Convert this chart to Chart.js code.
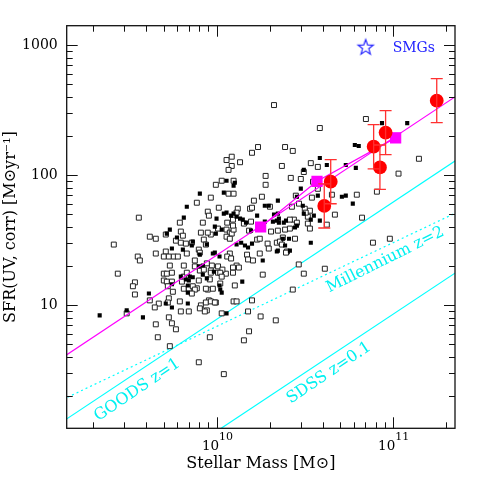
<!DOCTYPE html>
<html><head><meta charset="utf-8">
<script src="https://cdn.jsdelivr.net/npm/chart.js@4.4.1/dist/chart.umd.min.js"></script>
<style>html,body{margin:0;padding:0;background:#fff}</style>
</head><body>
<canvas id="c" width="480" height="480" style="width:480px;height:480px;display:block"></canvas>
<script>
// ---- data (stellar mass in Msun, SFR in Msun/yr) ----
const openMass = [21.2e9,70.5e9,38.6e9,17.2e9,15.9e9,24.5e9,27.1e9,11.4e9,12.2e9,13.6e9,12.2e9,11.7e9,23.5e9,34.3e9,31.3e9,19.0e9,26.4e9,30.1e9,10.7e9,9.91e9,19.0e9,11.7e9,12.5e9,9.28e9,18.1e9,34.8e9,16.3e9,29.4e9,10.3e9,13.2e9,15.5e9,15.9e9,20.1e9,26.8e9,7.73e9,108e9,141e9,37.6e9,45.2e9,47.0e9,42.3e9,33.9e9,37.6e9,62.6e9,67.0e9,81.4e9,96.4e9,8.92e9,9.05e9,6.19e9,13.0e9,3.62e9,6.27e9,5.15e9,6.44e9,4.18e9,4.52e9,5.88e9,6.27e9,6.70e9,7.24e9,2.61e9,4.52e9,5.15e9,5.02e9,5.36e9,5.72e9,6.03e9,6.78e9,3.57e9,3.67e9,5.43e9,6.52e9,8.36e9,10.2e9,8.15e9,8.47e9,9.28e9,8.70e9,7.93e9,8.04e9,7.53e9,9.41e9,10.2e9,12.5e9,28.2e9,35.3e9,31.7e9,27.5e9,28.6e9,33.0e9,32.1e9,26.1e9,15.7e9,14.3e9,15.3e9,20.4e9,22.3e9,24.5e9,26.1e9,33.0e9,33.9e9,23.8e9,27.9e9,22.0e9,22.9e9,17.0e9,17.6e9,19.5e9,19.8e9,25.1e9,29.3e9,13.0e9,13.4e9,12.4e9,11.9e9,11.5e9,12.1e9,11.4e9,11.9e9,12.2e9,11.4e9,11.9e9,12.5e9,12.4e9,11.5e9,12.4e9,8.04e9,8.47e9,9.28e9,10.2e9,11.3e9,12.4e9,9.16e9,18.3e9,31.3e9,7.73e9,8.92e9,12.7e9,27.1e9,9.05e9,9.91e9,12.5e9,13.0e9,15.9e9,8.15e9,8.81e9,15.1e9,17.8e9,21.7e9,15.3e9,14.3e9,41.2e9,77.3e9,24.8e9,23.5e9,7.53e9,8.81e9,10.8e9,5.02e9,5.22e9,5.58e9,6.52e9,6.78e9,7.93e9,9.28e9,10.5e9,10.7e9,5.02e9,5.22e9,5.58e9,6.36e9,5.65e9,6.52e9,6.96e9,7.33e9,7.53e9,7.24e9,8.70e9,9.53e9,10.5e9,4.18e9,4.70e9,4.46e9,5.36e9,6.19e9,6.96e9,6.27e9,8.58e9,8.70e9,9.28e9,9.78e9,5.36e9,5.58e9,5.88e9,4.52e9,4.64e9,10.7e9,2.75e9,3.44e9,3.35e9,3.44e9,3.09e9,5.29e9,5.43e9,5.29e9,7.93e9,11.0e9,9.16e9,8.04e9,8.92e9,14.9e9,15.1e9,17.6e9,16.1e9];
const openSFR = [347,271,231,165,149,165,154,131,139,126,118,110,118,124,106,98.9,95.5,93.7,90.8,84.5,84.5,72.2,72.2,67.3,68.4,67.3,63.8,60.5,56.3,55.3,55.3,56.3,57.3,57.3,61.5,103,134,116,70.9,49.8,41.7,53.4,78.7,70.9,47.2,74.8,32.5,52.5,48.9,43.2,51.6,47.2,36.9,35.0,34.3,33.7,32.5,31.4,30.3,29.8,30.3,29.3,25.0,25.9,23.7,23.7,23.7,23.7,25.0,23.7,22.1,20.2,20.2,43.2,38.9,36.2,32.0,35.0,29.3,26.8,25.4,22.1,20.2,19.9,90.8,69.7,89.2,55.3,45.6,43.2,48.0,51.6,45.6,44.0,42.5,37.5,36.9,37.5,38.2,38.9,42.5,38.9,33.2,32.5,30.3,30.9,32.0,32.5,29.8,27.3,25.9,20.6,20.2,19.5,19.5,25.0,23.7,22.9,38.2,36.2,35.6,33.7,32.5,38.2,45.6,43.2,41.0,18.5,18.8,18.5,17.8,17.5,17.8,15.8,17.2,17.5,13.5,13.2,14.2,13.2,10.9,10.5,10.7,10.7,10.9,9.98,9.13,8.96,8.20,7.65,6.30,5.37,19.1,30.3,25.4,29.3,19.9,21.0,18.8,17.5,17.5,17.8,16.6,17.8,15.5,17.8,17.8,16.6,15.5,15.2,15.2,15.2,12.7,13.4,13.4,14.0,13.2,12.3,13.4,13.4,14.7,10.9,10.3,9.62,11.3,10.7,8.96,8.96,8.96,10.5,10.7,10.5,8.07,7.26,6.53,7.13,5.67,8.66,17.5,15.0,14.0,12.1,8.66,10.5,4.84,14.0,3.64,2.95,5.67,9.46,36.2,24.5,22.5,25.0,22.1];

const filledMass = [87.0e9,121e9,61.0e9,64.2e9,38.6e9,42.3e9,54.2e9,61.8e9,31.3e9,11.4e9,12.7e9,12.5e9,30.1e9,8.04e9,11.0e9,28.6e9,22.3e9,18.8e9,30.9e9,6.78e9,6.52e9,11.0e9,10.0e9,37.6e9,35.7e9,38.6e9,54.2e9,51.5e9,59.4e9,19.8e9,21.2e9,22.3e9,31.3e9,24.1e9,24.8e9,20.9e9,22.0e9,22.6e9,22.6e9,17.0e9,18.8e9,15.7e9,28.6e9,27.9e9,34.3e9,23.8e9,25.8e9,24.5e9,22.3e9,18.3e9,13.0e9,13.8e9,14.5e9,15.1e9,15.9e9,11.4e9,12.1e9,12.5e9,13.0e9,13.6e9,14.1e9,14.7e9,5.43e9,5.96e9,5.58e9,6.44e9,10.4e9,10.5e9,10.7e9,14.0e9,11.4e9,34.3e9,22.0e9,26.1e9,2.17e9,3.09e9,3.82e9,4.13e9,5.15e9,5.58e9,5.58e9,6.27e9,6.70e9,6.87e9,7.05e9,8.04e9,9.53e9,9.78e9,10.4e9,8.36e9,7.33e9,8.36e9,8.81e9,9.66e9,6.96e9,6.87e9,6.87e9,7.33e9,8.81e9,10.7e9,9.91e9,7.93e9,5.22e9,7.24e9,9.78e9];
const filledSFR = [252,252,171,168,136,120,120,114,110,90.8,87.6,83.1,78.9,72.2,73.5,68.4,63.8,58.3,58.3,57.3,47.2,50.7,46.4,69.7,48.9,44.8,69.7,68.4,60.5,58.3,49.8,50.7,50.7,43.2,44.8,44.0,44.8,43.2,46.4,48.9,44.0,37.5,41.0,39.6,45.6,32.5,32.5,28.8,26.3,22.1,29.3,30.3,28.8,27.8,29.8,51.6,48.9,50.7,48.0,46.4,45.6,43.2,38.2,33.2,27.3,26.8,14.2,13.2,12.5,15.2,8.66,30.3,25.9,26.3,8.35,9.13,8.07,12.3,10.3,9.62,14.5,16.6,15.8,14.2,16.6,24.5,25.0,25.4,23.7,20.2,16.4,17.2,16.1,18.1,15.5,12.5,10.3,30.9,29.3,38.2,35.6,19.9,35.6,28.8,40.3];

// stacked / binned points (magenta squares)
const binMass = [1.78e10, 3.72e10, 1.04e11];
const binSFR = [40.0, 89.9, 194];

// red circles with error bars
const circMass = [4.09e10, 4.45e10, 7.80e10, 8.47e10, 9.12e10, 1.78e11];
const circSFR = [58.1, 89.3, 166, 115, 213, 375];
const circLo = [39.3, 60.4, 112, 78, 144, 254];
const circHi = [85.9, 132, 245, 171, 315, 555];

// relations (end points)
const relMass = [1e9, 3e11];
const fitSFR = [3.05, 518];
const goodsSFR = [0.98, 166];
const millSFR = [1.56, 61.2];
const sdssSFR = [0.135, 22.8];

// SMG legend marker
const smgMass = [7.03e10];
const smgSFR = [975];

const yTickValues = [10, 100, 1000];
const xTickValues = [1e10, 1e11];
const xTickExp = ['10', '11'];

const pts = (xs, ys) => xs.map((x, i) => ({x: x, y: ys[i]}));

function starImg() {
  const c = document.createElement('canvas');
  c.width = 20; c.height = 20;
  const g = c.getContext('2d');
  g.strokeStyle = '#2323ff'; g.lineWidth = 1.2;
  g.beginPath();
  for (let k = 0; k < 10; k++) {
    const r = k % 2 ? 3.3 : 8.0;
    const a = -Math.PI / 2 + k * Math.PI / 5;
    const px = 10 + r * Math.cos(a), py = 10.8 + r * Math.sin(a);
    if (k) g.lineTo(px, py); else g.moveTo(px, py);
  }
  g.closePath(); g.stroke();
  return c;
}

const FONT = 'DejaVu Serif';
Chart.defaults.font.family = FONT;
Chart.defaults.color = '#000';

const decor = {
  id: 'decor',
  afterDatasetsDraw(chart) {
    const ctx = chart.ctx, xs = chart.scales.x, ys = chart.scales.y;
    ctx.save();
    // error bars
    ctx.strokeStyle = '#ff3030'; ctx.lineWidth = 1.3;
    circMass.forEach((m, i) => {
      const px = xs.getPixelForValue(m);
      const lo = ys.getPixelForValue(circLo[i]), hi = ys.getPixelForValue(circHi[i]);
      ctx.beginPath();
      ctx.moveTo(px, lo); ctx.lineTo(px, hi);
      ctx.moveTo(px - 6, lo); ctx.lineTo(px + 6, lo);
      ctx.moveTo(px - 6, hi); ctx.lineTo(px + 6, hi);
      ctx.stroke();
    });
    // annotations
    const notes = [
      {text: 'GOODS z=1', x: 3.55e9, y: 2.23, rot: -34},
      {text: 'Millennium z=2', x: 9.1e10, y: 22.3, rot: -26.5},
      {text: 'SDSS z=0.1', x: 4.35e10, y: 3.01, rot: -34}
    ];
    ctx.fillStyle = '#00f0f0';
    ctx.font = '16px "' + FONT + '"';
    ctx.textAlign = 'center'; ctx.textBaseline = 'middle';
    notes.forEach(n => {
      ctx.save();
      ctx.translate(xs.getPixelForValue(n.x), ys.getPixelForValue(n.y));
      ctx.rotate(n.rot * Math.PI / 180);
      ctx.fillText(n.text, 0, 0);
      ctx.restore();
    });
    // SMGs label
    ctx.fillStyle = '#2323ff';
    ctx.font = '14px "' + FONT + '"';
    ctx.textAlign = 'left';
    ctx.fillText('SMGs', xs.getPixelForValue(smgMass[0]) + 27, ys.getPixelForValue(smgSFR[0]) + 1.5);
    ctx.restore();
  },
  afterDraw(chart) {
    const ctx = chart.ctx, xs = chart.scales.x, ys = chart.scales.y;
    const a = chart.chartArea;
    ctx.save();
    ctx.strokeStyle = '#111'; ctx.lineWidth = 1.3;
    ctx.strokeRect(a.left, a.top, a.right - a.left, a.bottom - a.top);
    ctx.lineWidth = 1;
    ctx.beginPath();
    for (let d = 9; d <= 11; d++) for (let m = 1; m <= 9; m++) {
      const v = m * Math.pow(10, d);
      if (v < xs.min || v > xs.max) continue;
      const p = Math.round(xs.getPixelForValue(v)) + 0.5, L = m === 1 ? 11 : 6;
      ctx.moveTo(p, a.bottom); ctx.lineTo(p, a.bottom - L);
      ctx.moveTo(p, a.top); ctx.lineTo(p, a.top + L);
    }
    for (let d = 0; d <= 3; d++) for (let m = 1; m <= 9; m++) {
      const v = m * Math.pow(10, d);
      if (v < ys.min || v > ys.max) continue;
      const p = Math.round(ys.getPixelForValue(v)) + 0.5, L = m === 1 ? 11 : 6;
      ctx.moveTo(a.left, p); ctx.lineTo(a.left + L, p);
      ctx.moveTo(a.right, p); ctx.lineTo(a.right - L, p);
    }
    ctx.stroke();
    // x tick labels 10^10, 10^11
    ctx.fillStyle = '#000'; ctx.textBaseline = 'alphabetic'; ctx.textAlign = 'left';
    xTickValues.forEach((v, i) => {
      const px = xs.getPixelForValue(v);
      ctx.font = '13.5px "' + FONT + '"';
      const w1 = ctx.measureText('10').width;
      ctx.font = '11px "' + FONT + '"';
      const w2 = ctx.measureText(xTickExp[i]).width;
      const x0 = px - (w1 + w2) / 2 + 1;
      ctx.font = '13.5px "' + FONT + '"';
      ctx.fillText('10', x0, a.bottom + 21.2);
      ctx.font = '11px "' + FONT + '"';
      ctx.fillText(xTickExp[i], x0 + w1, a.bottom + 11.5);
    });
    ctx.restore();
  }
};

new Chart(document.getElementById('c'), {
  type: 'scatter',
  data: {
    datasets: [
      {label: 'GOODS z=1', data: pts(relMass, goodsSFR), showLine: true, pointRadius: 0, borderColor: '#00ffff', borderWidth: 1.2, clip: 0, order: 10},
      {label: 'Millennium z=2', data: pts(relMass, millSFR), showLine: true, pointRadius: 0, borderColor: '#00ffff', borderWidth: 1.2, borderDash: [2, 3], clip: 0, order: 10},
      {label: 'SDSS z=0.1', data: pts(relMass, sdssSFR), showLine: true, pointRadius: 0, borderColor: '#00ffff', borderWidth: 1.2, clip: 0, order: 10},
      {label: 'open', data: pts(openMass, openSFR), pointStyle: 'rect', pointRadius: 3.5, backgroundColor: '#fff', borderColor: '#222', borderWidth: 1, order: 9},
      {label: 'filled', data: pts(filledMass, filledSFR), pointStyle: 'rect', pointRadius: 2.9, backgroundColor: '#000', borderColor: '#000', borderWidth: 0, order: 8},
      {label: 'fit', data: pts(relMass, fitSFR), showLine: true, pointRadius: 0, borderColor: '#ff00ff', borderWidth: 1.2, clip: 0, order: 7},
      {label: 'bins', data: pts(binMass, binSFR), showLine: true, pointStyle: 'rect', pointRadius: 7.1, backgroundColor: '#ff00ff', borderColor: '#ff00ff', borderWidth: 1.2, order: 6},
      {label: 'circles', data: pts(circMass, circSFR), pointStyle: 'circle', pointRadius: 6.9, backgroundColor: '#ff0000', borderWidth: 0, order: 5},
      {label: 'SMGs', data: pts(smgMass, smgSFR), pointStyle: starImg(), pointRadius: 8, order: 4}
    ]
  },
  options: {
    responsive: false,
    animation: false,
    devicePixelRatio: 1,
    layout: {padding: {top: 25.7, right: 25, left: 0, bottom: 0}},
    plugins: {legend: {display: false}, tooltip: {enabled: false}},
    scales: {
      x: {
        type: 'logarithmic', min: 1.41e9, max: 2.26e11, bounds: 'data',
        grid: {display: false, drawTicks: false}, border: {display: false},
        ticks: {display: false},
        title: {display: true, text: 'Stellar Mass [M\u2299]', font: {size: 16, family: FONT}, color: '#000', padding: {top: 0, bottom: 6.4}},
        afterFit: s => { s.height = 51.7; }
      },
      y: {
        type: 'logarithmic', min: 1.13, max: 1416, bounds: 'data',
        grid: {display: false, drawTicks: false}, border: {display: false},
        afterBuildTicks: s => { s.ticks = yTickValues.map(v => ({value: v})); },
        ticks: {font: {size: 14, family: FONT}, color: '#000', padding: 9, autoSkip: false, callback: v => String(v)},
        title: {display: true, text: 'SFR(UV, corr) [M\u2299yr\u207B\u00B9]', font: {size: 16, family: FONT}, color: '#000', padding: {top: 1, bottom: 0}},
        afterFit: s => { s.width = 66.7; }
      }
    }
  },
  plugins: [decor]
});
</script>
</body></html>
